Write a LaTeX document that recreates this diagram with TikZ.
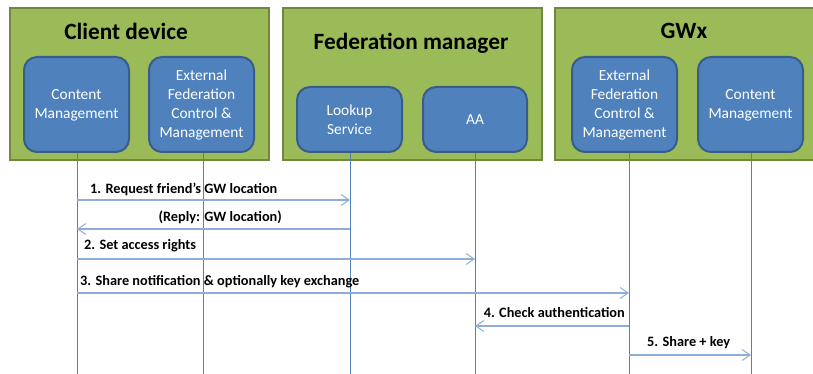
\documentclass[tikz,border=0pt]{standalone}
\usepackage{fontspec}
\setmainfont{Carlito}
\usetikzlibrary{arrows.meta}
\definecolor{grpfill}{HTML}{9BBB59}
\definecolor{grpline}{HTML}{71893F}
\definecolor{boxfill}{HTML}{4F81BD}
\definecolor{boxline}{HTML}{385D8A}
\definecolor{lifecol}{HTML}{4F81BD}
\definecolor{msgcol}{HTML}{8EAEDA}
\tikzset{
  group/.style={draw=grpline, fill=grpfill, line width=2pt},
  grptitle/.style={font=\bfseries\fontsize{23.3}{26}\selectfont, text=black, inner sep=0pt},
  unit/.style={draw=boxline, fill=boxfill, line width=2pt, rounded corners=13pt},
  unittext/.style={text=white, align=center, font=\fontsize{15.4}{19}\selectfont, inner sep=0pt},
  lifeline/.style={draw=lifecol, line width=0.9pt},
  msg/.style={draw=msgcol, line width=1.4pt, -{Straight Barb[length=8pt,width=11pt,line width=1pt]}},
  msglabel/.style={font=\bfseries\fontsize{14.3}{17}\selectfont, inner sep=0pt, text=black}
}
\begin{document}
\begin{tikzpicture}[x=1pt,y=-1pt]
\useasboundingbox (0,0) rectangle (813,374);

% group frames
\draw[group] (10,8) rectangle (269,160);
\draw[group] (283,8) rectangle (542,160);
\draw[group] (555,8) rectangle (822,160);
\node[grptitle] (tclient) at (126,31) {Client device};
\node[grptitle] (tfed) at (411,43) {Federation manager};
\node[grptitle] (tgw) at (684,31) {GWx};

% components
\draw[unit] (24,57) rectangle (129,152);
\draw[unit] (149,57) rectangle (254,152);
\draw[unit] (297,87) rectangle (402,152);
\draw[unit] (423,87) rectangle (527,152);
\draw[unit] (572,57) rectangle (677,152);
\draw[unit] (698,57) rectangle (803,152);
\node[unittext] (ccm) at (76.5,105) {Content\\Management};
\node[unittext] (cext) at (201.5,105) {External\\Federation\\Control \&\\Management};
\node[unittext] (look) at (349.5,120) {Lookup\\Service};
\node[unittext] (aa) at (475,120) {AA};
\node[unittext] (gext) at (624.5,105) {External\\Federation\\Control \&\\Management};
\node[unittext] (gcm) at (750.5,105) {Content\\Management};

% lifelines
\coordinate (l1t) at (77,153);  \coordinate (l1b) at (77,374);
\coordinate (l2t) at (203,153); \coordinate (l2b) at (203,374);
\coordinate (l3t) at (350,153); \coordinate (l3b) at (350,374);
\coordinate (l4t) at (475,153); \coordinate (l4b) at (475,374);
\coordinate (l5t) at (629,153); \coordinate (l5b) at (629,374);
\coordinate (l6t) at (751,153); \coordinate (l6b) at (751,374);
\foreach \i in {1,...,6} \draw[lifeline] (l\i t) -- (l\i b);

% message heights
\coordinate (m1) at (0,200);
\coordinate (m2) at (0,229);
\coordinate (m3) at (0,259);
\coordinate (m4) at (0,293);
\coordinate (m5) at (0,326);
\coordinate (m6) at (0,355);

\draw[msg] (l1t |- m1) -- (l3t |- m1);
\draw[msg] (l3t |- m2) -- (l1t |- m2);
\draw[msg] (l1t |- m3) -- (l4t |- m3);
\draw[msg] (l1t |- m4) -- (l5t |- m4);
\draw[msg] (l5t |- m5) -- (l4t |- m5);
\draw[msg] (l5t |- m6) -- (l6t |- m6);

\node[msglabel, anchor=west] (t1) at (90,189) {1. Request friend’s GW location};
\node[msglabel, anchor=east] (t2) at (282,217) {(Reply: GW location)};
\node[msglabel, anchor=west] (t3) at (84,246) {2. Set access rights};
\node[msglabel, anchor=west] (t4) at (80,282) {3. Share notification \& optionally key exchange};
\node[msglabel, anchor=east] (t5) at (625,313) {4. Check authentication};
\node[msglabel, anchor=west] (t6) at (647,343) {5. Share + key};
\end{tikzpicture}
\end{document}
